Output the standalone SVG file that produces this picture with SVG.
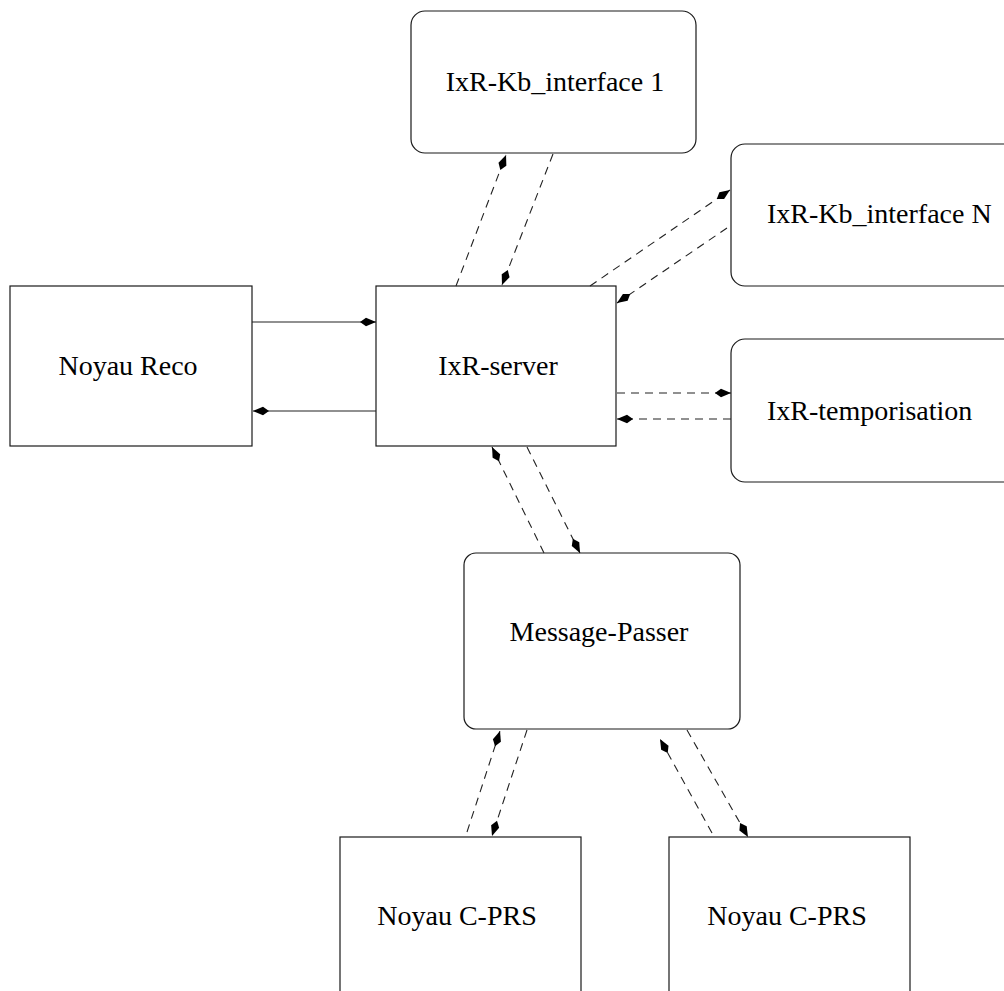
<svg xmlns="http://www.w3.org/2000/svg" width="1004" height="991" viewBox="0 0 1004 991">
  <style>
    .box { fill: #ffffff; stroke: #1a1a1a; stroke-width: 1.2; }
    .label { font-family: "Liberation Serif", "Times New Roman", serif; font-size: 28px; fill: #000000; }
    .mid { text-anchor: middle; }
    .solid { fill: none; stroke: #222222; stroke-width: 1.1; marker-end: url(#head); }
    .dash { fill: none; stroke: #222222; stroke-width: 1.1; stroke-dasharray: 8 6; marker-end: url(#head); }
  </style>
  <defs>
    <marker id="head" viewBox="-17 -6 18 12" refX="0" refY="0" markerWidth="18" markerHeight="12" markerUnits="userSpaceOnUse" orient="auto">
      <path d="M0,0 L-10,-4.2 L-16,0 L-10,4.2 Z" fill="#000000"/>
    </marker>
  </defs>

  <rect width="1004" height="991" fill="#ffffff"/>

  <g id="kb-interface-1">
    <rect class="box" x="411" y="11" width="285" height="142" rx="14"/>
    <text class="label mid" x="555" y="91">IxR-Kb_interface 1</text>
  </g>

  <g id="kb-interface-n">
    <rect class="box" x="731" y="144" width="300" height="142" rx="14"/>
    <text class="label" x="767" y="223">IxR-Kb_interface N</text>
  </g>

  <g id="noyau-reco">
    <rect class="box" x="10" y="286" width="242" height="160"/>
    <text class="label mid" x="128" y="375">Noyau Reco</text>
  </g>

  <g id="ixr-server">
    <rect class="box" x="376" y="286" width="240" height="160"/>
    <text class="label mid" x="498" y="375">IxR-server</text>
  </g>

  <g id="temporisation">
    <rect class="box" x="731" y="339" width="300" height="143" rx="14"/>
    <text class="label" x="767" y="420">IxR-temporisation</text>
  </g>

  <g id="message-passer">
    <rect class="box" x="464" y="553" width="276" height="176" rx="12"/>
    <text class="label mid" x="599" y="641">Message-Passer</text>
  </g>

  <g id="c-prs-1">
    <rect class="box" x="340" y="837" width="241" height="170"/>
    <text class="label mid" x="457" y="925">Noyau C-PRS</text>
  </g>

  <g id="c-prs-2">
    <rect class="box" x="669" y="837" width="241" height="170"/>
    <text class="label mid" x="787" y="925">Noyau C-PRS</text>
  </g>

  <g id="connectors">
    <!-- Noyau Reco <-> IxR-server -->
    <path class="solid" d="M252,322 L376,322"/>
    <path class="solid" d="M376,411 L253,411"/>
    <!-- IxR-server <-> IxR-Kb_interface 1 -->
    <path class="dash" d="M456,286 L506,155"/>
    <path class="dash" d="M553,154 L502,285"/>
    <!-- IxR-server <-> IxR-Kb_interface N -->
    <path class="dash" d="M590,286 L730,190"/>
    <path class="dash" d="M727,228 L617,303"/>
    <!-- IxR-server <-> IxR-temporisation -->
    <path class="dash" d="M617,393 L731,393"/>
    <path class="dash" d="M731,419 L617,419"/>
    <!-- IxR-server <-> Message-Passer -->
    <path class="dash" d="M544,553 L492,447"/>
    <path class="dash" d="M527,447 L580,553"/>
    <!-- Message-Passer <-> Noyau C-PRS (left) -->
    <path class="dash" d="M467,832 L500,731"/>
    <path class="dash" d="M527,730 L492,836"/>
    <!-- Message-Passer <-> Noyau C-PRS (right) -->
    <path class="dash" d="M712,833 L660,739"/>
    <path class="dash" d="M687,730 L748,837"/>
  </g>
</svg>
